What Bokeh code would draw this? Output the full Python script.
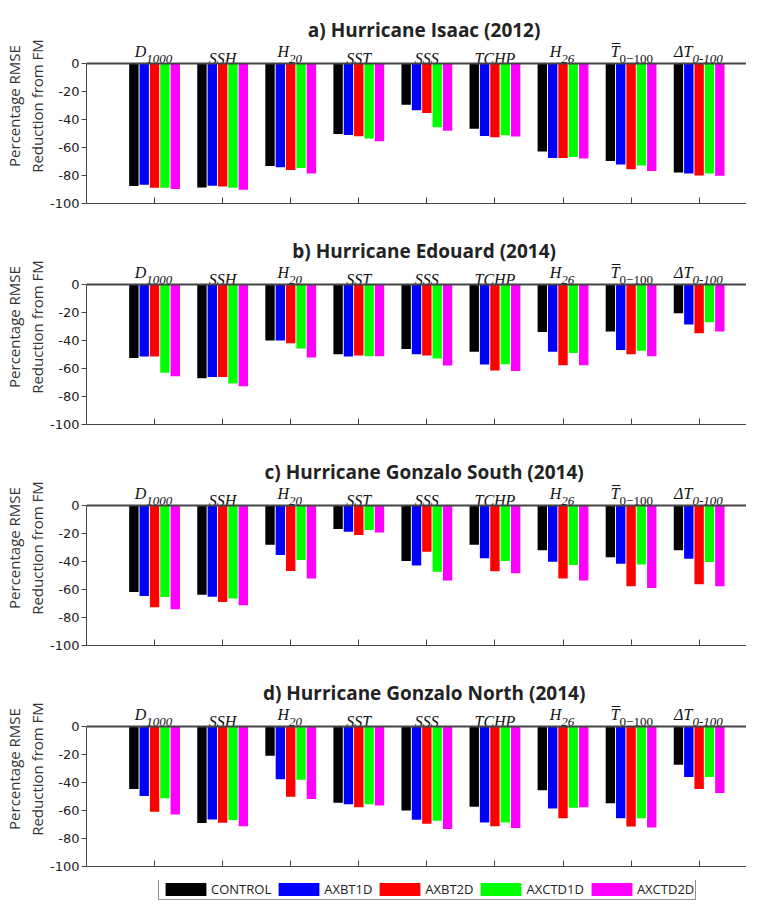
from bokeh.plotting import figure
from bokeh.models import (FixedTicker, Legend, LegendItem, ColumnDataSource, Range1d, Span)
from bokeh.layouts import column
from bokeh.embed import file_html
from bokeh.resources import INLINE

# ---------------- data ----------------
panel_titles = ["a) Hurricane Isaac (2012)", "b) Hurricane Edouard (2014)",
                "c) Hurricane Gonzalo South (2014)", "d) Hurricane Gonzalo North (2014)"]
var_main = ["D", "SSH", "H", "SST", "SSS", "TCHP", "H", "T", "\u0394T"]
var_sub = ["1000", "", "20", "", "", "", "26", "0\u2212100", "0-100"]
var_accent = ["", "", "", "", "", "", "", "\u00af", ""]
var_sub_italic = [True, True, True, True, True, True, True, False, True]
experiments = ["CONTROL", "AXBT1D", "AXBT2D", "AXCTD1D", "AXCTD2D"]
exp_colors = ["#000000", "#0000ff", "#ff0000", "#00ff00", "#ff00ff"]
y_ticks = [-100, -80, -60, -40, -20, 0]

isaac_control = [-87.5, -88.5, -73.2, -50.4, -29.4, -46.6, -62.8, -69.6, -77.9]
isaac_axbt1d = [-86.6, -87.3, -74.1, -51.0, -33.4, -51.8, -67.5, -72.2, -78.6]
isaac_axbt2d = [-88.7, -87.8, -76.0, -52.0, -35.3, -52.7, -67.5, -75.5, -80.0]
isaac_axctd1d = [-88.7, -88.7, -74.6, -53.6, -45.6, -51.3, -66.8, -72.9, -78.6]
isaac_axctd2d = [-89.6, -90.1, -78.6, -55.5, -48.0, -52.2, -67.8, -76.7, -80.2]

edouard_control = [-52.5, -67.0, -40.0, -49.9, -46.1, -48.0, -34.0, -33.5, -20.6]
edouard_axbt1d = [-51.5, -66.0, -40.0, -51.5, -49.9, -57.1, -48.0, -46.8, -28.6]
edouard_axbt2d = [-51.5, -66.0, -42.0, -50.8, -50.8, -61.4, -57.6, -49.9, -34.9]
edouard_axctd1d = [-63.0, -70.7, -45.7, -51.3, -52.9, -56.9, -48.9, -47.3, -26.9]
edouard_axctd2d = [-65.6, -72.6, -52.2, -51.3, -57.8, -61.8, -57.6, -51.3, -33.5]

gonzalo_s_control = [-61.7, -63.8, -28.0, -16.8, -39.7, -28.0, -32.0, -36.9, -32.0]
gonzalo_s_axbt1d = [-64.7, -65.2, -35.3, -18.7, -42.8, -37.6, -40.2, -41.6, -38.1]
gonzalo_s_axbt2d = [-72.7, -68.9, -46.7, -21.0, -33.0, -47.0, -52.1, -57.7, -56.3]
gonzalo_s_axctd1d = [-65.4, -66.4, -39.0, -17.5, -47.4, -39.7, -42.5, -42.1, -40.4]
gonzalo_s_axctd2d = [-74.1, -71.3, -52.1, -19.2, -53.5, -48.4, -53.5, -58.9, -57.7]

gonzalo_n_control = [-44.7, -68.9, -20.9, -54.4, -60.0, -57.4, -45.6, -54.8, -27.3]
gonzalo_n_axbt1d = [-49.6, -66.4, -37.6, -55.5, -66.6, -68.5, -58.6, -65.6, -36.0]
gonzalo_n_axbt2d = [-60.9, -68.7, -50.1, -57.6, -69.4, -71.3, -65.6, -71.5, -44.7]
gonzalo_n_axctd1d = [-51.3, -66.8, -38.1, -55.5, -67.3, -68.5, -58.1, -65.6, -36.0]
gonzalo_n_axctd2d = [-62.8, -71.3, -51.8, -56.5, -73.2, -72.5, -57.6, -72.2, -47.5]

panels = [
    [isaac_control, isaac_axbt1d, isaac_axbt2d, isaac_axctd1d, isaac_axctd2d],
    [edouard_control, edouard_axbt1d, edouard_axbt2d, edouard_axctd1d, edouard_axctd2d],
    [gonzalo_s_control, gonzalo_s_axbt1d, gonzalo_s_axbt2d, gonzalo_s_axctd1d, gonzalo_s_axctd2d],
    [gonzalo_n_control, gonzalo_n_axbt1d, gonzalo_n_axbt2d, gonzalo_n_axctd1d, gonzalo_n_axctd2d],
]

# ---------------- style ----------------
FIG_W = 746
BORDER_L = 77
FRAME_W = FIG_W - BORDER_L
UNIT_PX = 69.0
X_END = FRAME_W / UNIT_PX
PX_PER_Y = 1.4          # pixels per percentage point
HEAD_PX = 55            # space above the zero line for title + labels
Y_TOP = HEAD_PX / PX_PER_Y
TOP_PAD = 8
BAR_STEP = 0.152
BAR_W = 0.138
AXIS_COLOR = "#444444"
TICK_FONT = "DejaVu Sans"
TITLE_FONT = "Open Sans"
CAT_FONT = "Liberation Serif"
TITLE_X = 4.96

cats = list(range(1, len(var_main) + 1))

# label layout (screen px offsets)
main_x, main_y, main_t, main_dx, main_dy, main_al = [], [], [], [], [], []
sub_x, sub_y, sub_t, sub_dx, sub_dy, sub_style = [], [], [], [], [], []
acc_x, acc_y, acc_t, acc_dx, acc_dy = [], [], [], [], []
for c, m, s, a, it in zip(cats, var_main, var_sub, var_accent, var_sub_italic):
    main_x.append(c); main_y.append(0); main_t.append(m)
    if s:
        junction = (len(m) * 9.5 - len(s) * 6.5) / 2.0
        main_dx.append(junction); main_dy.append(-12); main_al.append("right")
        sub_x.append(c); sub_y.append(0); sub_t.append(s)
        sub_dx.append(junction); sub_dy.append(-5)
        sub_style.append("italic" if it else "normal")
        if a:
            acc_x.append(c); acc_y.append(0); acc_t.append(a)
            acc_dx.append(junction - 3.5); acc_dy.append(-13)
    else:
        main_dx.append(0); main_dy.append(-5); main_al.append("center")

figs = []
legend_src = None
for k, (title, series) in enumerate(zip(panel_titles, panels)):
    first = (k == 0)
    last = (k == len(panels) - 1)
    border_b = 14 if last else 26
    border_t = TOP_PAD if first else 0
    height = border_t + HEAD_PX + 140 + border_b
    p = figure(width=FIG_W, height=height, output_backend="svg", toolbar_location=None,
               x_range=Range1d(0, X_END), y_range=Range1d(-100, Y_TOP),
               min_border_left=BORDER_L, min_border_right=0, min_border_top=border_t,
               min_border_bottom=border_b)
    p.outline_line_color = None
    p.grid.visible = False

    srcs = []
    for j, (vals, col, name) in enumerate(zip(series, exp_colors, experiments)):
        off = (j - 2) * BAR_STEP
        src = ColumnDataSource(dict(x=[c + off for c in cats], top=[0.0] * len(vals), bottom=vals))
        p.vbar(x="x", width=BAR_W, top="top", bottom="bottom", source=src,
               fill_color=col, line_color=None)
        srcs.append(src)
    if last:
        legend_src = srcs

    # zero line (top of the axes box)
    p.add_layout(Span(location=0, dimension="width", line_color=AXIS_COLOR, line_width=2))

    # bottom axis (ticks only)
    xa = p.xaxis[0]
    xa.ticker = FixedTicker(ticks=cats)
    xa.major_label_overrides = {c: "" for c in cats}
    xa.major_label_text_color = None
    xa.major_label_text_font_size = "1px"
    xa.major_label_standoff = 0
    xa.major_tick_in = 6
    xa.major_tick_out = 0
    xa.minor_tick_line_color = None
    xa.axis_line_color = AXIS_COLOR
    xa.major_tick_line_color = AXIS_COLOR

    # left axis
    ya = p.yaxis[0]
    ya.bounds = (-100, 0)
    ya.ticker = FixedTicker(ticks=y_ticks)
    ya.major_label_overrides = {t: str(t) for t in y_ticks}
    ya.minor_tick_line_color = None
    ya.major_tick_in = 0
    ya.major_tick_out = 5
    ya.axis_line_color = AXIS_COLOR
    ya.major_tick_line_color = AXIS_COLOR
    ya.major_label_text_font = TICK_FONT
    ya.major_label_text_font_size = "13px"
    ya.major_label_text_color = "#222222"
    ya.major_label_standoff = 2
    ya.axis_label = "Percentage RMSE\nReduction from FM"
    ya.axis_label_text_font = "Open Sans"
    ya.axis_label_text_font_style = "normal"
    ya.axis_label_text_font_size = "15px"
    ya.axis_label_text_line_height = 1.15
    ya.axis_label_text_color = "#333333"
    ya.axis_label_standoff = 0

    # panel title
    p.text(x=[TITLE_X], y=[0], text=[title], y_offset=-34, text_align="center",
           text_baseline="alphabetic", text_font={"value": TITLE_FONT},
           text_font_style="bold", text_font_size="19px", text_color="#222222")

    # category labels (main part + subscript + overbar)
    msrc = ColumnDataSource(dict(x=main_x, y=main_y, t=main_t, dx=main_dx, dy=main_dy, al=main_al))
    p.text(x="x", y="y", text="t", x_offset="dx", y_offset="dy", text_align="al",
           text_baseline="alphabetic", text_font={"value": CAT_FONT},
           text_font_style="italic", text_font_size="16px", text_color="#111111", source=msrc)
    ssrc = ColumnDataSource(dict(x=sub_x, y=sub_y, t=sub_t, dx=sub_dx, dy=sub_dy, st=sub_style))
    p.text(x="x", y="y", text="t", x_offset="dx", y_offset="dy", text_align="left",
           text_baseline="alphabetic", text_font={"value": CAT_FONT},
           text_font_style="st", text_font_size="13px", text_color="#111111", source=ssrc)
    asrc = ColumnDataSource(dict(x=acc_x, y=acc_y, t=acc_t, dx=acc_dx, dy=acc_dy))
    p.text(x="x", y="y", text="t", x_offset="dx", y_offset="dy", text_align="center",
           text_baseline="alphabetic", text_font={"value": CAT_FONT},
           text_font_size="16px", text_color="#111111", source=asrc)
    figs.append(p)

# legend strip (uses hidden copies of panel d bars as legend renderers)
lg = figure(width=FIG_W, height=20, output_backend="svg", toolbar_location=None,
            x_range=Range1d(0, 1), y_range=Range1d(0, 1),
            x_axis_location=None, y_axis_location=None,
            min_border_left=0, min_border_right=0, min_border_top=0, min_border_bottom=0)
lg.outline_line_color = None
lg.grid.visible = False
items = []
for src, col, name in zip(legend_src, exp_colors, experiments):
    r = lg.vbar(x="x", top="top", bottom="bottom", width=BAR_W, source=src,
                fill_color=col, line_color=None, visible=False)
    items.append(LegendItem(label=name, renderers=[r]))
leg = Legend(items=items, orientation="horizontal", location=(72, 0),
             glyph_width=51, glyph_height=16, label_standoff=0, spacing=2,
             padding=1, margin=0, border_line_color="#222222",
             border_line_width=1, label_text_font="Open Sans",
             label_text_font_size="13px", label_text_color="#222222",
             label_height=16, background_fill_alpha=1.0,
             inactive_fill_alpha=0.0)
lg.add_layout(leg)
figs.append(lg)

layout = column(*figs, spacing=0)
open("out.html", "w").write(file_html(layout, INLINE))
